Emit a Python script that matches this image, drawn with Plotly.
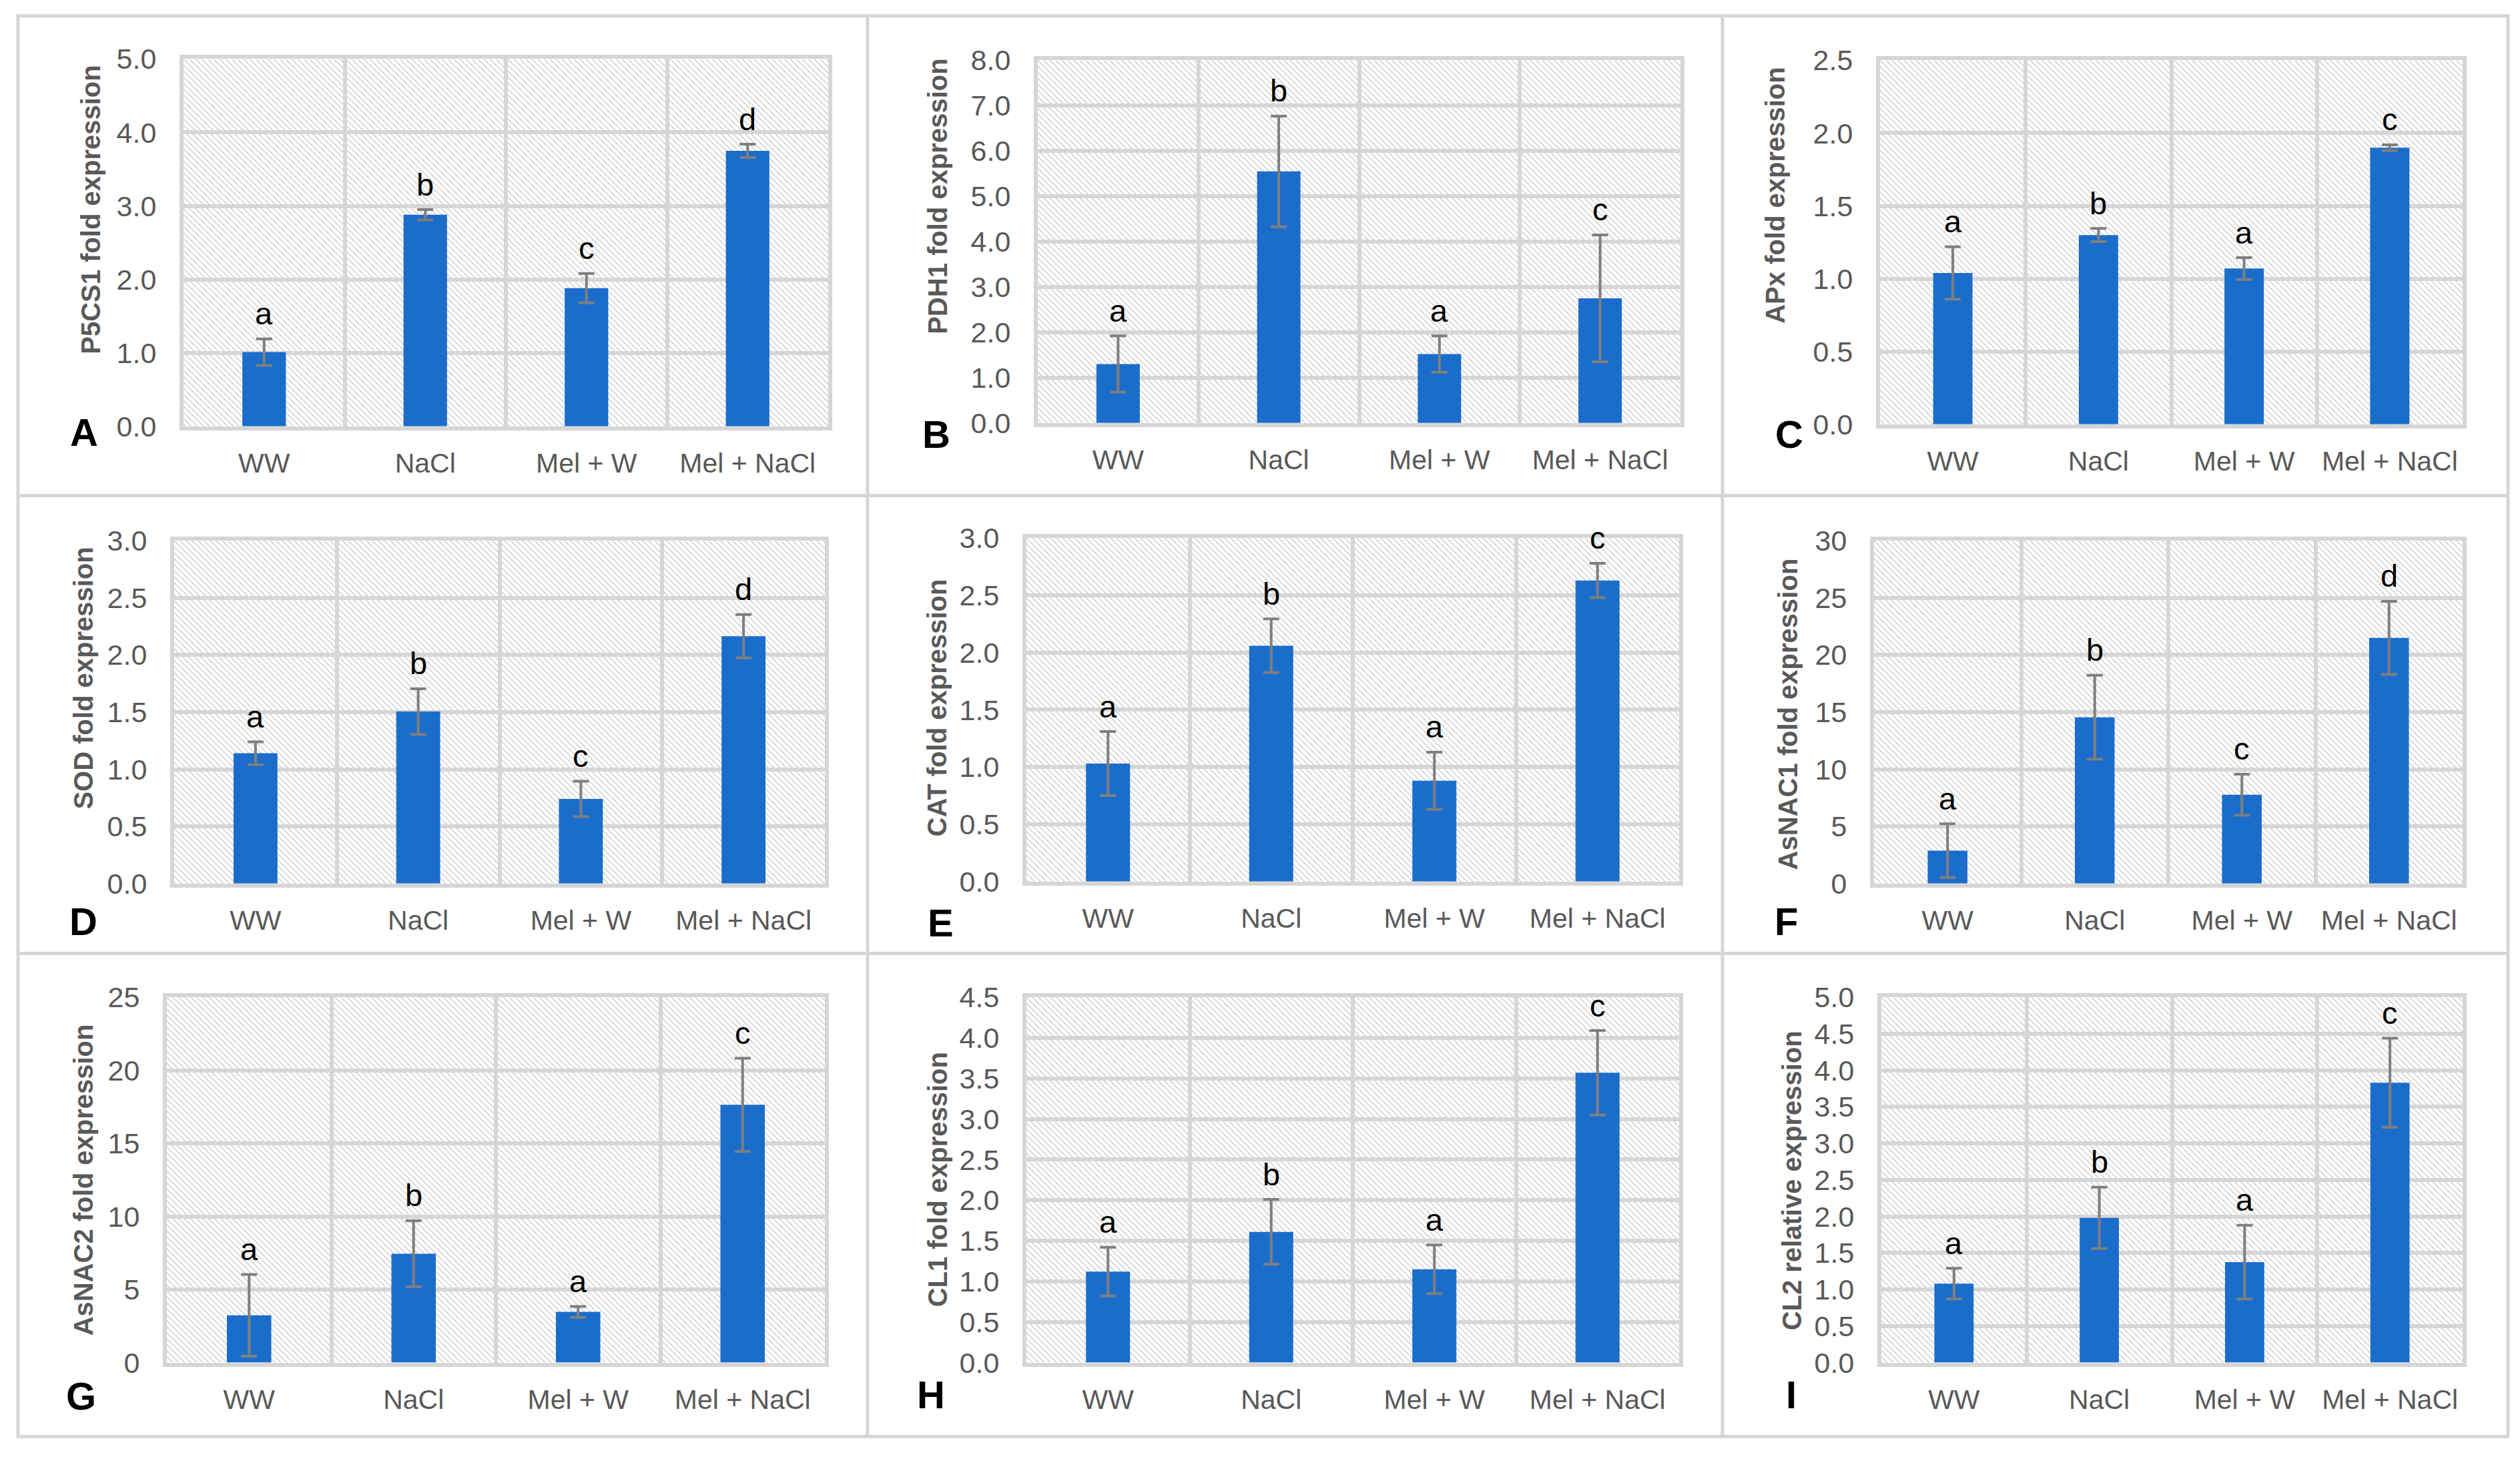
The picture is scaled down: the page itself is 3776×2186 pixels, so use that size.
import base64
import plotly.graph_objects as go

W, H = 3776, 2186

# ---------------- data ----------------
categories = ["WW", "NaCl", "Mel + W", "Mel + NaCl"]

p5cs1_mean = [1.01, 2.88, 1.88, 3.75]
p5cs1_err = [0.18, 0.07, 0.20, 0.09]
p5cs1_letters = ["a", "b", "c", "d"]

pdh1_mean = [1.30, 5.55, 1.52, 2.75]
pdh1_err = [0.62, 1.22, 0.40, 1.40]
pdh1_letters = ["a", "b", "a", "c"]

apx_mean = [1.04, 1.30, 1.07, 1.90]
apx_err = [0.18, 0.045, 0.075, 0.02]
apx_letters = ["a", "b", "a", "c"]

sod_mean = [1.14, 1.505, 0.74, 2.165]
sod_err = [0.10, 0.20, 0.155, 0.19]
sod_letters = ["a", "b", "c", "d"]

cat_mean = [1.03, 2.06, 0.88, 2.63]
cat_err = [0.28, 0.235, 0.25, 0.15]
cat_letters = ["a", "b", "a", "c"]

asnac1_mean = [2.87, 14.55, 7.77, 21.5]
asnac1_err = [2.35, 3.67, 1.80, 3.20]
asnac1_letters = ["a", "b", "c", "d"]

asnac2_mean = [3.23, 7.45, 3.47, 17.64]
asnac2_err = [2.80, 2.26, 0.37, 3.19]
asnac2_letters = ["a", "b", "a", "c"]

cl1_mean = [1.12, 1.61, 1.15, 3.57]
cl1_err = [0.30, 0.40, 0.30, 0.52]
cl1_letters = ["a", "b", "a", "c"]

cl2_mean = [1.08, 1.98, 1.375, 3.83]
cl2_err = [0.21, 0.42, 0.505, 0.61]
cl2_letters = ["a", "b", "a", "c"]

panel_letters = ["A", "B", "C", "D", "E", "F", "G", "H", "I"]
y_titles = ["P5CS1 fold expression", "PDH1 fold expression", "APx fold expression",
            "SOD fold expression", "CAT fold expression", "AsNAC1 fold expression",
            "AsNAC2 fold expression", "CL1 fold expression", "CL2 relative expression"]
y_max = [5.0, 8.0, 2.5, 3.0, 3.0, 30, 25, 4.5, 5.0]
y_dtick = [1.0, 1.0, 0.5, 0.5, 0.5, 5, 5, 0.5, 0.5]
y_format = [".1f", ".1f", ".1f", ".1f", ".1f", "d", "d", ".1f", ".1f"]

means = [p5cs1_mean, pdh1_mean, apx_mean, sod_mean, cat_mean, asnac1_mean,
         asnac2_mean, cl1_mean, cl2_mean]
errs = [p5cs1_err, pdh1_err, apx_err, sod_err, cat_err, asnac1_err,
        asnac2_err, cl1_err, cl2_err]
sig_letters = [p5cs1_letters, pdh1_letters, apx_letters, sod_letters, cat_letters,
               asnac1_letters, asnac2_letters, cl1_letters, cl2_letters]

# ---------------- layout (target pixel positions) ----------------
plot_px = [  # x0, x1, y0(top), y1(bottom)
    (274, 1240, 86, 638), (1554, 2517, 88, 633), (2816, 3689, 88, 635),
    (260, 1235, 810, 1325), (1537, 2515, 806, 1322), (2807, 3689, 810, 1325),
    (249, 1235, 1496, 2045), (1537, 2515, 1496, 2045), (2818, 3689, 1496, 2045),
]
letter_px = [(125, 647), (1402, 650), (2680, 650), (124, 1382), (1408, 1384),
             (2675, 1382), (120, 2095), (1394, 2093), (2683, 2093)]
title_px = [(135, 313), (1404, 293), (2659, 291), (124, 1017), (1403, 1061),
            (2678, 1071), (124, 1771), (1404, 1770), (2684, 1772)]

BAR = "#1b6dcc"
GRID = "#d6d6d6"
TICK = "#595959"
FONT = "Liberation Sans, Arial, sans-serif"

# small correction for page offset of the rendered figure
X_OFF = 7
Y_OFF = 29.4
Y_SCL = 0.981


def px(x):
    return (x - X_OFF) / W


def py(y):
    return 1 - ((y - Y_OFF) / Y_SCL) / H


def hatch_uri(w, h):
    s = 9
    svg = (
        f"<svg xmlns='http://www.w3.org/2000/svg' width='{w}' height='{h}' "
        f"viewBox='0 0 {w} {h}' preserveAspectRatio='none'>"
        f"<defs><pattern id='p' width='{s}' height='{s}' patternUnits='userSpaceOnUse'>"
        f"<path d='M-2,{s-2} L2,{s+2} M0,0 L{s},{s} M{s-2},-2 L{s+2},2' "
        f"stroke='#c8c8c8' stroke-width='1.3'/></pattern></defs>"
        f"<rect width='{w}' height='{h}' fill='url(#p)'/></svg>"
    )
    return "data:image/svg+xml;base64," + base64.b64encode(svg.encode()).decode()


fig = go.Figure()
annotations = []
images = []
layout_axes = {}

for i in range(9):
    n = i + 1
    xs = "" if n == 1 else str(n)
    x0, x1, y0, y1 = plot_px[i]

    fig.add_trace(go.Bar(
        x=categories, y=means[i],
        error_y=dict(type="data", array=errs[i], color="#7f7f7f",
                     thickness=4, width=12),
        marker=dict(color=BAR, line=dict(width=0)),
        width=0.27, xaxis=f"x{xs}", yaxis=f"y{xs}", showlegend=False,
        hoverinfo="x+y",
    ))

    layout_axes[f"xaxis{xs}"] = dict(
        domain=[px(x0), px(x1)], anchor=f"y{xs}", type="category",
        categoryorder="array", categoryarray=categories, range=[-0.5, 3.5],
        tickson="boundaries", showgrid=True, gridcolor=GRID, gridwidth=6,
        showline=True, mirror=True, linecolor=GRID, linewidth=6, ticks="",
        tickfont=dict(family=FONT, size=41, color=TICK), ticklabelstandoff=14,
        fixedrange=True,
    )
    layout_axes[f"yaxis{xs}"] = dict(
        domain=[py(y1), py(y0)], anchor=f"x{xs}", range=[0, y_max[i]],
        dtick=y_dtick[i], tick0=0, tickformat=y_format[i],
        showgrid=True, gridcolor=GRID, gridwidth=6, zeroline=False,
        showline=True, mirror=True, linecolor=GRID, linewidth=6, ticks="",
        tickfont=dict(family=FONT, size=43, color=TICK), ticklabelstandoff=26,
        fixedrange=True,
    )

    images.append(dict(
        source=hatch_uri(x1 - x0, y1 - y0), xref=f"x{xs} domain", yref=f"y{xs} domain",
        x=0, y=1, sizex=1, sizey=1, xanchor="left", yanchor="top",
        sizing="stretch", layer="below",
    ))

    # significance letters
    for c, m, e, lt in zip(categories, means[i], errs[i], sig_letters[i]):
        annotations.append(dict(
            x=c, y=m + e, xref=f"x{xs}", yref=f"y{xs}", text=lt, showarrow=False,
            yanchor="middle", yshift=38,
            font=dict(family=FONT, size=47, color="#000000"),
        ))

    # y-axis title
    tx, ty = title_px[i]
    annotations.append(dict(
        x=px(tx), y=py(ty), xref="paper", yref="paper", text=f"<b>{y_titles[i]}</b>",
        textangle=-90, showarrow=False, xanchor="center", yanchor="middle",
        font=dict(family=FONT, size=40, color=TICK),
    ))

    # panel letter
    lx, ly = letter_px[i]
    annotations.append(dict(
        x=px(lx), y=py(ly), xref="paper", yref="paper", text=f"<b>{panel_letters[i]}</b>",
        showarrow=False, xanchor="center", yanchor="middle",
        font=dict(family=FONT, size=58, color="#000000"),
    ))

# panel frames
BOX = "#d6d6d6"
shapes = [dict(type="rect", xref="paper", yref="paper", x0=px(26), x1=px(3757),
               y0=py(2156), y1=py(21), line=dict(color=BOX, width=5))]
for xv in (1299, 2580):
    shapes.append(dict(type="line", xref="paper", yref="paper", x0=px(xv), x1=px(xv),
                       y0=py(2156), y1=py(21), line=dict(color=BOX, width=5)))
for yv in (742, 1430):
    shapes.append(dict(type="line", xref="paper", yref="paper", x0=px(26), x1=px(3757),
                       y0=py(yv), y1=py(yv), line=dict(color=BOX, width=5)))

fig.update_layout(
    width=W, height=H, margin=dict(l=0, r=0, t=0, b=0),
    paper_bgcolor="white", plot_bgcolor="rgba(0,0,0,0)",
    barmode="overlay", annotations=annotations, images=images, shapes=shapes,
    font=dict(family=FONT), **layout_axes,
)

fig.write_html("out.html")
